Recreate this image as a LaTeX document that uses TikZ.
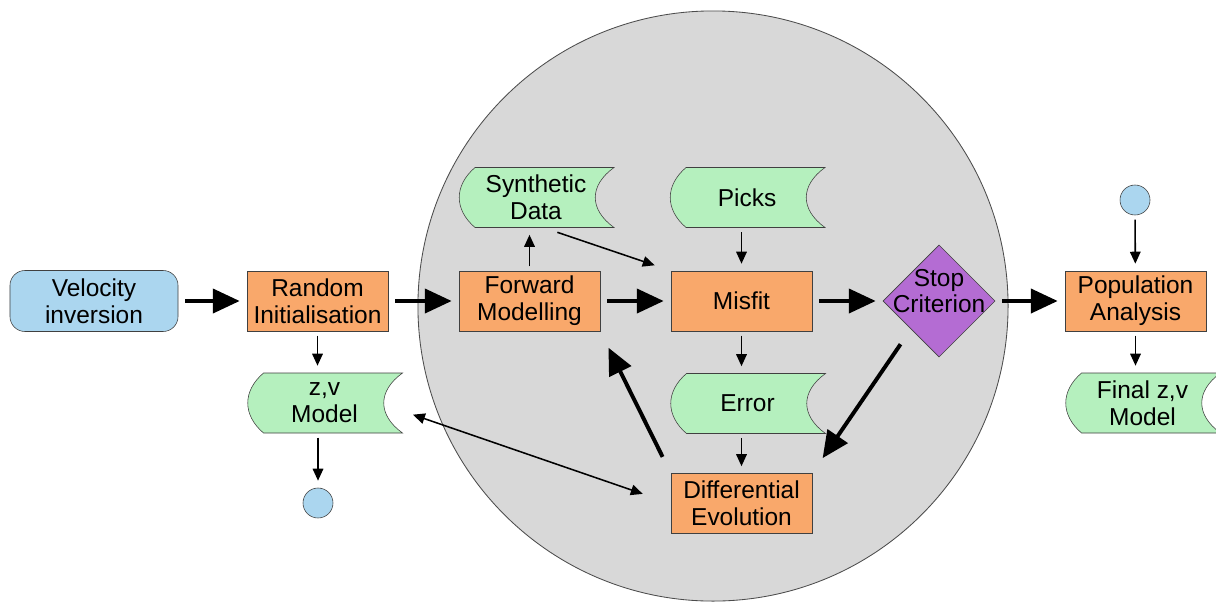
\documentclass[tikz,border=0pt]{standalone}
\usepackage{fontspec}
\setmainfont{Liberation Sans}
\usetikzlibrary{arrows.meta,shapes.geometric}
\definecolor{procorange}{HTML}{F9A86B}
\definecolor{datagreen}{HTML}{B5F0BE}
\definecolor{termblue}{HTML}{ABD6EF}
\definecolor{stoppurple}{HTML}{B46CD3}
\definecolor{loopgrey}{HTML}{D8D8D8}
\tikzset{
  procbox/.style={rectangle,draw=black!75,fill=procorange,minimum width=3.525cm,minimum height=1.5cm,inner sep=0pt,align=center},
  termbox/.style={rectangle,rounded corners=0.375cm,draw=black!75,fill=termblue,minimum width=4.2cm,minimum height=1.525cm,inner sep=0pt,align=center},
  databox/.style={rectangle,minimum width=3.875cm,minimum height=1.5cm,inner sep=0pt,align=center},
  stopbox/.style={diamond,aspect=1,draw=black!75,fill=stoppurple,minimum width=2.8cm,minimum height=2.8cm,inner sep=0pt},
  endbox/.style={circle,draw=black!75,fill=termblue,minimum size=0.75cm,inner sep=0pt},
  bigarrow/.style={line width=2.8pt,-{Triangle[length=19pt,width=17pt]},shorten <=5pt,shorten >=5pt},
  thinarrow/.style={line width=1.1pt,-{Triangle[length=8.5pt,width=7.5pt]},shorten <=3pt,shorten >=5pt},
}
\def\procnode{\node[procbox]}
\def\termnode{\node[termbox]}
\def\endnode{\node[endbox]}
\newcommand{\datanode}[4]{%
  \filldraw[draw=black!75,fill=datagreen,shift={(#2,#3)}] (-61,-30) -- (78,-30) .. controls (53,-12) and (53,12) .. (78,30) -- (-61,30) .. controls (-82,12) and (-82,-12) .. (-61,-30) -- cycle;
  \node[databox] (#1) at (#2,#3) {#4};
}

\begin{document}
\begin{tikzpicture}[x=0.025cm,y=-0.025cm,font=\fontsize{17.4}{19}\selectfont]
\clip (0,0) rectangle (1216,606);
\fill[white] (0,0) rectangle (1216,606);
\filldraw[fill=loopgrey,draw=black!70,line width=0.6pt] (713,306) circle [radius=7.375cm];
\termnode (vel) at (94,301) {Velocity\\inversion};
\procnode (rand) at (317.5,301) {Random\\Initialisation};
\datanode{zv}{324.5}{403}{z,v\\Model}
\endnode (zvend) at (318,503) {};
\procnode (fwd) at (529.5,301) {Forward\\Modelling};
\datanode{synth}{536}{197.5}{Synthetic\\Data}
\procnode (misfit) at (741.5,301) {Misfit};
\datanode{picks}{747}{197.5}{Picks}
\datanode{err}{747.5}{403.5}{Error}
\procnode (devo) at (741.5,503.5) {Differential\\Evolution};
\node[stopbox] (stop) at (939,301) {};
\node[align=center] (stoptext) at (939,291) {Stop\\Criterion};
\procnode (pop) at (1135.5,301) {Population\\Analysis};
\endnode (popstart) at (1135,200) {};
\datanode{final}{1142.5}{403}{Final z,v\\Model}

\draw[bigarrow] (vel) -- (rand);
\draw[bigarrow] (rand) -- (fwd);
\draw[bigarrow] (fwd) -- (misfit);
\draw[bigarrow] (misfit) -- (stop);
\draw[bigarrow] (stop) -- (pop);
\draw[bigarrow,shorten <=13pt,shorten >=13pt] (stop.south west) -- (devo.north east);
\draw[bigarrow,shorten <=13pt,shorten >=13pt] (devo.north west) -- (fwd.south east);
\draw[thinarrow] (rand.south) -- (rand.south |- zv.north);
\draw[thinarrow] (zv.south -| zvend) -- (zvend);
\draw[thinarrow] (fwd.north) -- (fwd.north |- synth.south);
\draw[thinarrow,shorten <=10pt,shorten >=12pt] ([xshift=0.2cm]synth.south) -- (misfit.north west);
\draw[thinarrow] (picks.south -| misfit) -- (misfit);
\draw[thinarrow] (misfit) -- (misfit |- err.north);
\draw[thinarrow] (err.south -| devo) -- (devo);
\draw[thinarrow,{Triangle[length=8.5pt,width=7.5pt]}-{Triangle[length=8.5pt,width=7.5pt]},shorten <=8pt,shorten >=21pt] ([yshift=-0.2cm]zv.east) -- (devo.west);
\draw[thinarrow] (popstart) -- (pop);
\draw[thinarrow] (pop) -- (pop |- final.north);
\end{tikzpicture}
\end{document}
